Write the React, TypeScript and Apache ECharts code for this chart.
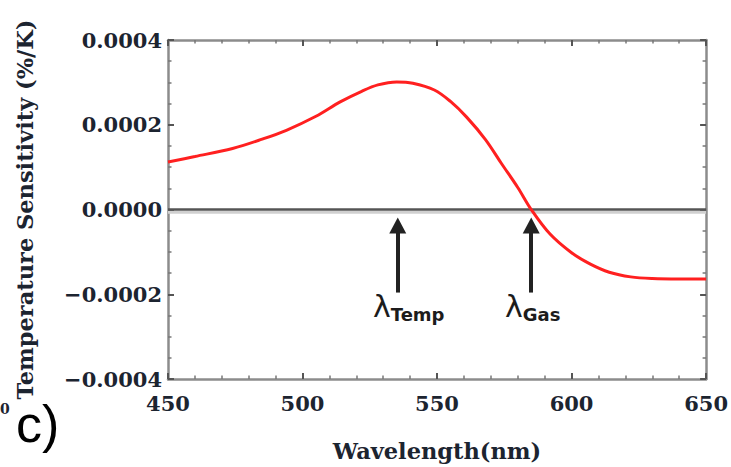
import React, { useEffect, useRef } from "react";
import * as echarts from "echarts";

const wavelengths = [450, 460, 474, 485, 494, 505, 514, 522, 528, 535, 541, 549, 555, 561, 568, 574, 580, 585, 592, 600, 607, 614, 622, 630, 640, 650];
const sensitivity = [0.000112, 0.000125, 0.000144, 0.000166, 0.000187, 0.00022, 0.000254, 0.000279, 0.000294, 0.000301, 0.000298, 0.000282, 0.000255, 0.000218, 0.000165, 0.000108, 0.000052, 0.0, -0.000058, -0.000102, -0.000129, -0.000148, -0.000159, -0.000163, -0.000164, -0.000164];
const xTicks = [450, 500, 550, 600, 650];
const yTicks = [-0.0004, -0.0002, 0, 0.0002, 0.0004];
const zeroLine = [[450, 0], [650, 0]];
const zeroShadow = [[450, -0.0000065], [650, -0.0000065]];
const arrowMarks = [
  { name: "Temp", x: 535.4, from: -0.000196, to: -0.000038 },
  { name: "Gas", x: 585, from: -0.000196, to: -0.000038 },
];

const SERIF = "'DejaVu Serif', serif";
const LABEL_COLOR = "#1c2430";

export default function App() {
  const ref = useRef<HTMLDivElement>(null);
  useEffect(() => {
    if (!ref.current) return;
    const chart = echarts.init(ref.current, null, { renderer: "svg" });
    const axisLine = { show: true, onZero: false, lineStyle: { color: "#8c8c8c", width: 2.5 } };
    const axisTick = { show: true, inside: true, length: 6, lineStyle: { color: "#555", width: 2 } };
    const minorTick = (n: number) => ({ show: true, splitNumber: n, length: 3.5, lineStyle: { color: "#777", width: 1.5 } });
    const fmtY = (v: number) => {
      const s = Math.abs(v).toFixed(4);
      return v < -1e-12 ? "\u2212" + s : s;
    };
    const lambdaRich = {
      l: { fontFamily: "'DejaVu Sans', sans-serif", fontSize: 30, fill: "#1c1c1c" },
      s: { fontFamily: "'DejaVu Sans', sans-serif", fontSize: 18, fontWeight: "bold", fill: "#1c1c1c", padding: [16, 0, 0, 0] },
    };
    chart.setOption({
      animation: false,
      backgroundColor: "#ffffff",
      grid: { left: 168, right: 22, top: 40, bottom: 86, containLabel: false },
      xAxis: [
        {
          type: "value",
          min: xTicks[0],
          max: xTicks[xTicks.length - 1],
          interval: 50,
          position: "bottom",
          axisLine,
          axisTick,
          minorTick: minorTick(5),
          splitLine: { show: false },
          axisLabel: { color: LABEL_COLOR, fontFamily: SERIF, fontWeight: "bold", fontSize: 21, margin: 14 },
          name: "Wavelength(nm)",
          nameLocation: "middle",
          nameGap: 60,
          nameTextStyle: { color: LABEL_COLOR, fontFamily: SERIF, fontWeight: "bold", fontSize: 22.5 },
        },
        {
          type: "value",
          min: xTicks[0],
          max: xTicks[xTicks.length - 1],
          interval: 50,
          position: "top",
          axisLine,
          axisTick,
          minorTick: minorTick(5),
          splitLine: { show: false },
          axisLabel: { show: false },
        },
      ],
      yAxis: [
        {
          type: "value",
          min: yTicks[0],
          max: yTicks[yTicks.length - 1],
          interval: 0.0002,
          position: "left",
          axisLine,
          axisTick,
          minorTick: minorTick(4),
          splitLine: { show: false },
          axisLabel: { color: LABEL_COLOR, fontFamily: SERIF, fontWeight: "bold", fontSize: 21, margin: 6, formatter: fmtY },
          name: "Temperature Sensitivity (%/K)",
          nameLocation: "middle",
          nameGap: 132,
          nameTextStyle: { color: LABEL_COLOR, fontFamily: SERIF, fontWeight: "bold", fontSize: 22.5 },
        },
        {
          type: "value",
          min: yTicks[0],
          max: yTicks[yTicks.length - 1],
          interval: 0.0002,
          position: "right",
          axisLine,
          axisTick,
          minorTick: minorTick(4),
          splitLine: { show: false },
          axisLabel: { show: false },
        },
      ],
      series: [
        {
          type: "line",
          data: zeroShadow,
          symbol: "none",
          lineStyle: { color: "#d0d0d0", width: 3 },
          z: 1,
          silent: true,
        },
        {
          type: "line",
          data: zeroLine,
          symbol: "none",
          lineStyle: { color: "#555555", width: 2.5 },
          z: 2,
          silent: true,
        },
        {
          type: "line",
          data: wavelengths.map((w, i) => [w, sensitivity[i]]),
          smooth: 0.35,
          symbol: "none",
          lineStyle: { color: "#ff2020", width: 3 },
          z: 3,
        },
        {
          type: "line",
          data: [],
          markLine: {
            silent: true,
            symbol: ["none", "triangle"],
            symbolSize: [17, 16],
            label: { show: false },
            lineStyle: { color: "#222222", width: 4, type: "solid" },
            data: arrowMarks.map((a) => [
              { coord: [a.x, a.from] },
              { coord: [a.x, a.to] },
            ]),
          },
        },
      ],
      graphic: [
        {
          type: "text",
          left: 373,
          top: 291,
          style: { text: "{l|λ}{s|Temp}", rich: lambdaRich },
        },
        {
          type: "text",
          left: 505,
          top: 291,
          style: { text: "{l|λ}{s|Gas}", rich: lambdaRich },
        },
        {
          type: "text",
          left: 16,
          top: 398,
          style: { text: "c)", fontFamily: "'Liberation Sans', sans-serif", fontSize: 52, fill: "#000000" },
        },
        {
          type: "text",
          left: 0,
          top: 402,
          style: { text: "0", fontFamily: SERIF, fontWeight: "bold", fontSize: 14, fill: LABEL_COLOR },
        },
      ],
    });
    return () => chart.dispose();
  }, []);
  return <div ref={ref} style={{ width: 731, height: 467, position: "absolute", left: 0, top: 0 }} />;
}
